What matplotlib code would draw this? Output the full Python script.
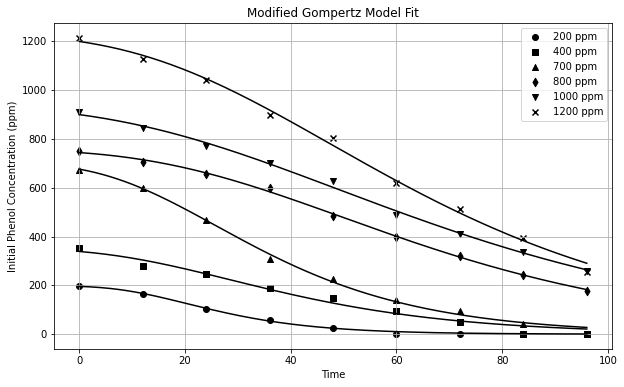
import numpy as np
import matplotlib
matplotlib.use("Agg")
import matplotlib.pyplot as plt

# sampling times (h) and measured phenol concentration (ppm)
time = np.array([0, 12, 24, 36, 48, 60, 72, 84, 96])

labels = ["200 ppm", "400 ppm", "700 ppm", "800 ppm", "1000 ppm", "1200 ppm"]
markers = ["o", "s", "^", "d", "v", "x"]

c200 = [197, 165, 105, 60, 25, 0, 0, 0, 0]
c400 = [355, 278, 245, 190, 148, 97, 50, 0, 0]
c700 = [675, 600, 470, 310, 225, 139, 93, 42, 0]
c800 = [752, 705, 655, 600, 485, 400, 320, 243, 179]
c1000 = [910, 845, 770, 700, 630, 490, 412, 335, 260]
c1200 = [1215, 1130, 1040, 900, 805, 620, 515, 395, 255]

series = [c200, c400, c700, c800, c1000, c1200]


def gompertz(t, A, k, lam):
    # modified Gompertz, written for a decreasing concentration
    return A * (1 - np.exp(-np.exp(k * (lam - t) + 1)))


def fit_gompertz(t, y, p0):
    # small Levenberg-Marquardt, numeric jacobian
    p = np.array(p0, dtype=float)
    lam = 1e-3
    sse = np.sum((y - gompertz(t, *p)) ** 2)
    for _ in range(2000):
        r = y - gompertz(t, *p)
        J = np.empty((len(t), 3))
        for j in range(3):
            dp = 1e-6 * max(abs(p[j]), 1e-6)
            pp = p.copy()
            pp[j] += dp
            J[:, j] = (gompertz(t, *pp) - gompertz(t, *p)) / dp
        A = J.T @ J
        g = J.T @ r
        try:
            step = np.linalg.solve(A + lam * np.diag(np.diag(A)), g)
        except np.linalg.LinAlgError:
            lam *= 10
            continue
        new = p + step
        new_sse = np.sum((y - gompertz(t, *new)) ** 2)
        if new_sse < sse:
            p, sse = new, new_sse
            lam /= 3
        else:
            lam *= 3
    return p


fig, ax = plt.subplots(figsize=(624 / 72, 387 / 72), dpi=72)
fig.subplots_adjust(left=0.0865, right=0.981, top=0.9406, bottom=0.0982)

t_fine = np.linspace(0, 96, 200)
for y, lab, m in zip(series, labels, markers):
    y = np.array(y, dtype=float)
    ax.scatter(time, y, marker=m, color="black", label=lab)
    p = fit_gompertz(time, y, [y[0] * 1.05, 0.05, 20.0])
    ax.plot(t_fine, gompertz(t_fine, *p), color="black")

ax.set_title("Modified Gompertz Model Fit")
ax.set_xlabel("Time")
ax.set_ylabel("Initial Phenol Concentration (ppm)")
ax.grid(True)
ax.legend(loc="upper right")

fig.savefig("out.png", dpi=72)
